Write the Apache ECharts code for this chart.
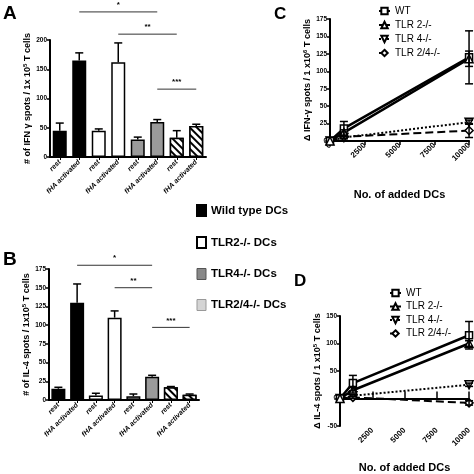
<!DOCTYPE html>
<html><head><meta charset="utf-8">
<script src="https://cdn.jsdelivr.net/npm/echarts@6/dist/echarts.min.js"></script>
<style>html,body{margin:0;padding:0;background:#fff}#c{width:474px;height:474px}</style>
</head><body><div id="c"></div>
<script>
// ---------- data ----------
const barCategories = ['rest','fHA activated','rest','fHA activated','rest','fHA activated','rest','fHA activated'];
const groupNames = ['Wild type DCs','TLR2-/- DCs','TLR4-/- DCs','TLR2/4-/- DCs'];
const ifnMeans = [45,165,45,162,30,60,33,53];
const ifnUpper = [58,178,48,195,34,64,45,56];
const il4Means = [15,130,6,110,5,31,17,7];
const il4Upper = [17,155,9,119,8,33,18,8];
// significance brackets: [fromCategory, toCategory, yValue]
const ifnSig = [[0.83,4.7,248],[3.0,5.5,210],[5.1,6.95,116]];
const il4Sig = [[1.0,4.98,180],[3.07,5.2,150],[4.83,7.39,97]];
const sigLabels = ['*','**','***'];

const dcCounts = [0,1000,10000];
const lineNames = ['WT','TLR 2-/-','TLR 4-/-','TLR 2/4-/-'];
const ifnWT = [0,18,120],   ifnWTErr = [0,10,38];
const ifnTLR2 = [0,12,118], ifnTLR2Err = [0,4,11];
const ifnTLR4 = [0,5,27],   ifnTLR4Err = [0,2,3];
const ifnTLR24 = [0,6,15],  ifnTLR24Err = [0,2,10];
const il4WT = [0,28,115],   il4WTErr = [0,14,25];
const il4TLR2 = [0,15,100], il4TLR2Err = [0,5,5];
const il4TLR4 = [0,5,25],   il4TLR4Err = [0,2,3];
const il4TLR24 = [0,2,-8],  il4TLR24Err = [0,2,4];

// ---------- styles ----------
const FF = "'Liberation Sans Narrow','Liberation Sans',Arial,sans-serif";
const FW = "'Liberation Sans',Arial,sans-serif";
const barStyles = [
  {color:'#000', borderColor:'#000', borderWidth:1.5},
  {color:'#fff', borderColor:'#000', borderWidth:1.5},
  {color:'#9a9a9a', borderColor:'#000', borderWidth:1.5},
  {color:'#fff', borderColor:'#000', borderWidth:1.5,
   decal:{symbol:'rect', symbolSize:1, dashArrayX:[1,0], dashArrayY:[2,3], rotation:Math.PI/4, color:'#000', backgroundColor:'#fff'}}
];
const downTri = 'path://M0,0 L10,0 L5,9 Z';
const lineStyles = [
  {symbol:'rect', symbolSize:7, lineStyle:{color:'#000', width:2.5, type:'solid'}},
  {symbol:'triangle', symbolSize:8, lineStyle:{color:'#000', width:2.5, type:'solid'}},
  {symbol:downTri, symbolSize:8, lineStyle:{color:'#000', width:2, type:'dotted'}},
  {symbol:'diamond', symbolSize:8, lineStyle:{color:'#000', width:2, type:'dashed'}}
];

function errBarRender(capHalf, both){
  return function(params, api){
    const x = api.value(0), lo = api.value(1), hi = api.value(2);
    const p1 = api.coord([x, lo]), p2 = api.coord([x, hi]);
    const st = {stroke:'#000', lineWidth:1.5};
    const ch = [
      {type:'line', shape:{x1:p1[0], y1:p1[1], x2:p2[0], y2:p2[1]}, style:st},
      {type:'line', shape:{x1:p2[0]-capHalf, y1:p2[1], x2:p2[0]+capHalf, y2:p2[1]}, style:st}
    ];
    if (both) ch.push({type:'line', shape:{x1:p1[0]-capHalf, y1:p1[1], x2:p1[0]+capHalf, y2:p1[1]}, style:st});
    return {type:'group', children:ch};
  };
}
function sigRender(params, api){
  const a = api.coord([api.value(0), api.value(2)]);
  const b = api.coord([api.value(1), api.value(2)]);
  return {type:'group', children:[
    {type:'line', shape:{x1:a[0], y1:a[1], x2:b[0], y2:b[1]}, style:{stroke:'#333', lineWidth:1}},
    {type:'text', x:(a[0]+b[0])/2, y:a[1]-3, style:{text:sigLabels[params.dataIndex], textAlign:'center', textVerticalAlign:'bottom', font:'bold 8px '+FW, fill:'#000'}}
  ]};
}

const axisLineS = {show:true, lineStyle:{color:'#000', width:2}};
const tickS = {show:true, length:3, lineStyle:{color:'#000', width:1.5}};
const tickLabS = {fontSize:6.5, fontWeight:'bold', color:'#000', fontFamily:FF, margin:3};
const catLab = {rotate:45, interval:0, fontSize:7, fontStyle:'italic', fontWeight:'bold', fontFamily:FF, color:'#000', margin:4};

const series = [];
// bar panels
[[ifnMeans, ifnUpper, ifnSig, 0], [il4Means, il4Upper, il4Sig, 1]].forEach(([means, upper, sig, k]) => {
  groupNames.forEach((name, g) => {
    series.push({type:'bar', name, xAxisIndex:k, yAxisIndex:k, barWidth:14, barGap:'-100%',
      itemStyle:barStyles[g], emphasis:{disabled:true},
      data: means.map((v,i) => Math.floor(i/2) === g ? v : '-')});
  });
  series.push({type:'custom', xAxisIndex:k, yAxisIndex:k, renderItem:errBarRender(4,false), z:5,
    data: means.map((v,i) => [i, v, upper[i]])});
  series.push({type:'custom', xAxisIndex:k, yAxisIndex:k, renderItem:sigRender, z:5, clip:false,
    data: sig});
});
// line panels
const ifnLines = [[ifnWT,ifnWTErr],[ifnTLR2,ifnTLR2Err],[ifnTLR4,ifnTLR4Err],[ifnTLR24,ifnTLR24Err]];
const il4Lines = [[il4WT,il4WTErr],[il4TLR2,il4TLR2Err],[il4TLR4,il4TLR4Err],[il4TLR24,il4TLR24Err]];
[[ifnLines, 2, 2], [il4Lines, 4, 3]].forEach(([lines, xi, yi]) => {
  lines.forEach(([vals, errs], s) => {
    series.push(Object.assign({type:'line', name:lineNames[s], xAxisIndex:xi, yAxisIndex:yi,
      itemStyle:{color:'#fff', borderColor:'#000', borderWidth:1.5}, z:3 + (s<2?1:0),
      data: dcCounts.map((x,i) => [x, vals[i]])}, lineStyles[s]));
    series.push({type:'custom', xAxisIndex:xi, yAxisIndex:yi, renderItem:errBarRender(4,true), z:6,
      data: dcCounts.map((x,i) => [x, vals[i]-errs[i], vals[i]+errs[i]]).filter((d,i)=>errs[i]>0)});
  });
});

const numFmt = v => String(v);
const option = {
  animation:false,
  backgroundColor:'#fff',
  textStyle:{fontFamily:FW},
  grid:[
    {left:50, width:156, top:40, height:117},
    {left:49, width:150, top:269, height:131},
    {left:330, width:140, top:19, height:122},
    {left:340, width:133, top:316, height:116}
  ],
  xAxis:[
    {type:'category', gridIndex:0, data:barCategories, axisLine:axisLineS,
     axisTick:{show:true, alignWithLabel:true, length:3, lineStyle:{color:'#000', width:1}}, axisLabel:catLab},
    {type:'category', gridIndex:1, data:barCategories, axisLine:axisLineS,
     axisTick:{show:true, alignWithLabel:true, length:3, lineStyle:{color:'#000', width:1}}, axisLabel:catLab},
    {type:'value', gridIndex:2, min:0, max:10000, interval:2500, splitLine:{show:false},
     axisLine:axisLineS, axisTick:{show:true, length:4, lineStyle:{color:'#000', width:1.5}},
     axisLabel:Object.assign({}, tickLabS, {rotate:45, fontSize:8, formatter:numFmt}),
     name:'No. of added DCs', nameLocation:'middle', nameGap:48,
     nameTextStyle:{fontSize:11, fontWeight:'bold', fontFamily:FF, color:'#000'}},
    {type:'value', gridIndex:3, min:0, max:10000, interval:2500, splitLine:{show:false},
     axisLine:{show:false, onZero:false}, axisTick:{show:false},
     axisLabel:Object.assign({}, tickLabS, {rotate:45, fontSize:8, formatter:v => v===0 ? '' : String(v)}),
     name:'No. of added DCs', nameLocation:'middle', nameGap:36,
     nameTextStyle:{fontSize:11, fontWeight:'bold', fontFamily:FF, color:'#000'}},
    {type:'value', gridIndex:3, min:0, max:10000, interval:2500, splitLine:{show:false},
     axisLine:{show:true, onZero:true, lineStyle:{color:'#000', width:2}},
     axisTick:{show:true, length:7, lineStyle:{color:'#000', width:1.5}}, axisLabel:{show:false}}
  ],
  yAxis:[
    {type:'value', gridIndex:0, min:0, max:200, interval:50, splitLine:{show:false}, axisLine:axisLineS, axisTick:tickS, axisLabel:tickLabS,
     name:'# of IFN γ spots / 1x 10{sup|5} T cells', nameLocation:'middle', nameRotate:90, nameGap:17,
     nameTextStyle:{fontSize:9, fontWeight:'bold', color:'#000', fontFamily:FW, rich:{sup:{fontSize:6, fontWeight:'bold', padding:[0,0,5,0]}}}},
    {type:'value', gridIndex:1, min:0, max:175, interval:25, splitLine:{show:false}, axisLine:axisLineS, axisTick:tickS, axisLabel:tickLabS,
     name:'# of IL-4 spots / 1x10{sup|5} T cells', nameLocation:'middle', nameRotate:90, nameGap:17,
     nameTextStyle:{fontSize:9, fontWeight:'bold', color:'#000', fontFamily:FW, rich:{sup:{fontSize:6, fontWeight:'bold', padding:[0,0,5,0]}}}},
    {type:'value', gridIndex:2, min:0, max:175, interval:25, splitLine:{show:false}, axisLine:axisLineS, axisTick:tickS, axisLabel:tickLabS,
     name:'Δ IFN-γ spots / 1 x10{sup|6} T cells', nameLocation:'middle', nameRotate:90, nameGap:17,
     nameTextStyle:{fontSize:9, fontWeight:'bold', color:'#000', fontFamily:FW, rich:{sup:{fontSize:6, fontWeight:'bold', padding:[0,0,5,0]}}}},
    {type:'value', gridIndex:3, min:-50, max:150, interval:50, splitLine:{show:false}, axisLine:axisLineS, axisTick:tickS, axisLabel:tickLabS,
     name:'Δ IL-4 spots / 1 x10{sup|5} T cells', nameLocation:'middle', nameRotate:90, nameGap:17,
     nameTextStyle:{fontSize:9, fontWeight:'bold', color:'#000', fontFamily:FW, rich:{sup:{fontSize:6, fontWeight:'bold', padding:[0,0,5,0]}}}}
  ],
  legend:[
    {orient:'vertical', left:191, top:199, icon:'rect', itemWidth:9, itemHeight:11, itemGap:19,
     selectedMode:false,
     textStyle:{fontSize:11.5, fontWeight:'bold', fontFamily:FF, color:'#000'},
     data:[
       {name:groupNames[0]},
       {name:groupNames[1]},
       {name:groupNames[2], itemStyle:{color:'#888', borderColor:'#555', borderWidth:1}},
       {name:groupNames[3], itemStyle:{color:'#d4d4d4', borderColor:'#999', borderWidth:1, decal:'none'}}
     ]},
    {orient:'vertical', left:373, top:1, itemWidth:11, itemHeight:8, itemGap:4, selectedMode:false,
     textStyle:{fontSize:10, fontFamily:FF, color:'#000'}, data:lineNames},
    {orient:'vertical', left:384, top:283, itemWidth:11, itemHeight:8, itemGap:3.5, selectedMode:false,
     textStyle:{fontSize:10, fontFamily:FF, color:'#000'}, data:lineNames}
  ],
  graphic:[
    {type:'text', left:3, top:4, style:{text:'A', font:'bold 19px '+FW, fill:'#000'}},
    {type:'text', left:3, top:250, style:{text:'B', font:'bold 19px '+FW, fill:'#000'}},
    {type:'text', left:274, top:6, style:{text:'C', font:'bold 17px '+FW, fill:'#000'}},
    {type:'text', left:294, top:273, style:{text:'D', font:'bold 17px '+FW, fill:'#000'}}
  ],
  series
};
const chart = echarts.init(document.getElementById('c'), null, {renderer:'canvas'});
chart.setOption(option);
</script></body></html>
